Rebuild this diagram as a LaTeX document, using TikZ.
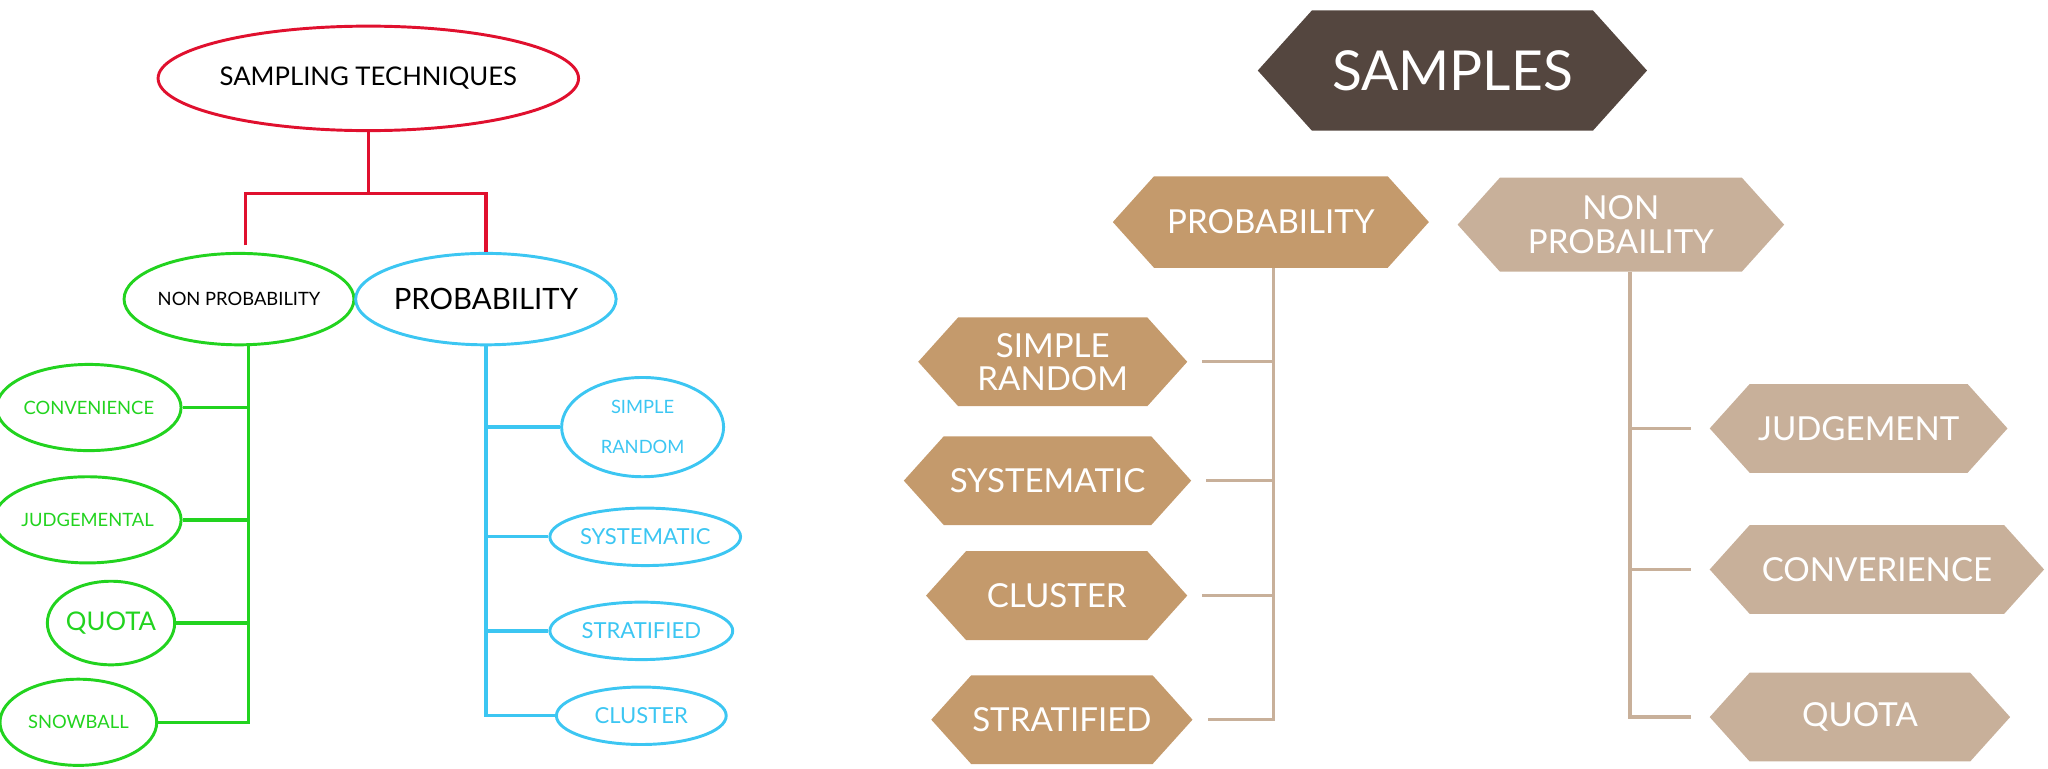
\documentclass[tikz,border=0pt]{standalone}
\usepackage{fontspec}
\setmainfont{Lato}
\usetikzlibrary{shapes.geometric}
\definecolor{redline}{HTML}{E0102E}
\definecolor{greenline}{HTML}{22D31F}
\definecolor{blueline}{HTML}{3CC6F2}
\definecolor{darkbrown}{HTML}{54463F}
\definecolor{midbrown}{HTML}{C49A6C}
\definecolor{lightbrown}{HTML}{C8B09A}
\tikzset{
 oval/.style={ellipse, draw, line width=1.6pt, inner sep=0pt, align=center, font=\fontsize{10}{12}\selectfont},
 tree/.style={line width=1.8pt},
 stem/.style={line width=1.8pt, lightbrown},
}
% hexagon: name, x, y, half width, half height, colour, size, text
\newcommand{\hexbox}[8]{
 \fill[#6] (#2-#4,#3) -- (#2-#4+0.9*#5,#3-#5) -- (#2+#4-0.9*#5,#3-#5) -- (#2+#4,#3)
   -- (#2+#4-0.9*#5,#3+#5) -- (#2-#4+0.9*#5,#3+#5) -- cycle;
 \node[white, align=center, font=\fontsize{#7}{#7}\selectfont, minimum width=2*#4*0.025cm, minimum height=2*#5*0.025cm] (#1) at (#2,#3) {#8};
}
\begin{document}
\begin{tikzpicture}[x=0.025cm,y=-0.025cm]
\useasboundingbox (0,0) rectangle (1568,588);

% left tree
\node[oval, redline, minimum width=300*0.025cm, minimum height=80*0.025cm, text=black, font=\fontsize{14}{16}\selectfont] (st) at (282,60) {SAMPLING TECHNIQUES};
\node[oval, greenline, minimum width=164*0.025cm, minimum height=70*0.025cm, text=black] (np) at (183,229) {NON PROBABILITY};
\node[oval, blueline, minimum width=194*0.025cm, minimum height=70*0.025cm, text=black, font=\fontsize{16}{18}\selectfont] (pr) at (372,229) {PROBABILITY};

\coordinate (split) at (282,148);
\draw[tree, redline] (st.south) -- (split);
\draw[tree, redline] (np.north) ++(5,-5) |- (split) -| (pr.north);

\node[oval, greenline, minimum width=132*0.025cm, minimum height=66*0.025cm] (conv) at (68,312) {CONVENIENCE};
\node[oval, greenline, minimum width=130*0.025cm, minimum height=66*0.025cm] (judg) at (67,398) {JUDGEMENTAL};
\node[oval, greenline, minimum width=96*0.025cm, minimum height=64*0.025cm, font=\fontsize{14}{16}\selectfont] (quota) at (85,477) {QUOTA};
\node[oval, greenline, minimum width=120*0.025cm, minimum height=66*0.025cm] (snow) at (60,553) {SNOWBALL};

\node[oval, blueline, minimum width=124*0.025cm, minimum height=76*0.025cm, font=\fontsize{10}{22}\selectfont] (simple) at (492,327) {SIMPLE\\RANDOM};
\node[oval, blueline, minimum width=146*0.025cm, minimum height=44*0.025cm, font=\fontsize{12}{14}\selectfont] (syst) at (494,411) {SYSTEMATIC};
\node[oval, blueline, minimum width=140*0.025cm, minimum height=44*0.025cm, font=\fontsize{12}{14}\selectfont] (strat) at (491,483) {STRATIFIED};
\node[oval, blueline, minimum width=130*0.025cm, minimum height=44*0.025cm, font=\fontsize{12}{14}\selectfont] (clus) at (491,548) {CLUSTER};

\draw[tree, greenline] (np.south) ++(7,0) |- (snow.east);
\foreach \n in {conv,judg,quota}
 \draw[tree, greenline] (\n.east) -- (np.south |- \n.east) ++(7,0) -- (\n.east);
\draw[tree, blueline] (pr.south) |- (clus.west);
\foreach \n in {simple,syst,strat}
 \draw[tree, blueline] (pr.south |- \n.west) -- (\n.west);

% right tree
\hexbox{samples}{1112}{54}{149}{46}{darkbrown}{30}{SAMPLES}
\hexbox{prob}{973}{170}{121}{35}{midbrown}{18}{PROBABILITY}
\hexbox{nonprob}{1241}{172}{125}{36}{lightbrown}{18}{NON\\PROBAILITY}

\hexbox{srandom}{806}{277}{103}{34}{midbrown}{18}{SIMPLE\\RANDOM}
\hexbox{systematic}{802}{368}{110}{34}{midbrown}{18}{SYSTEMATIC}
\hexbox{cluster}{809}{456}{100}{34}{midbrown}{18}{CLUSTER}
\hexbox{stratified}{813}{551}{100}{34}{midbrown}{18}{STRATIFIED}

\hexbox{judgement}{1423}{328}{114}{34}{lightbrown}{18}{JUDGEMENT}
\hexbox{converience}{1437}{436}{128}{34}{lightbrown}{18}{CONVERIENCE}
\hexbox{quotahex}{1424}{549}{115}{34}{lightbrown}{18}{QUOTA}

\coordinate (ptop) at (975,205);
\coordinate (ntop) at (1248,208);
\draw[stem] (ptop) |- ([xshift=8]stratified.east);
\foreach \n in {srandom,systematic,cluster}
 \draw[stem] (ptop |- \n.east) -- ([xshift=8]\n.east);
\draw[stem] (ntop) |- ([xshift=-10]quotahex.west);
\foreach \n in {judgement,converience}
 \draw[stem] (ntop |- \n.west) -- ([xshift=-10]\n.west);
\end{tikzpicture}
\end{document}
